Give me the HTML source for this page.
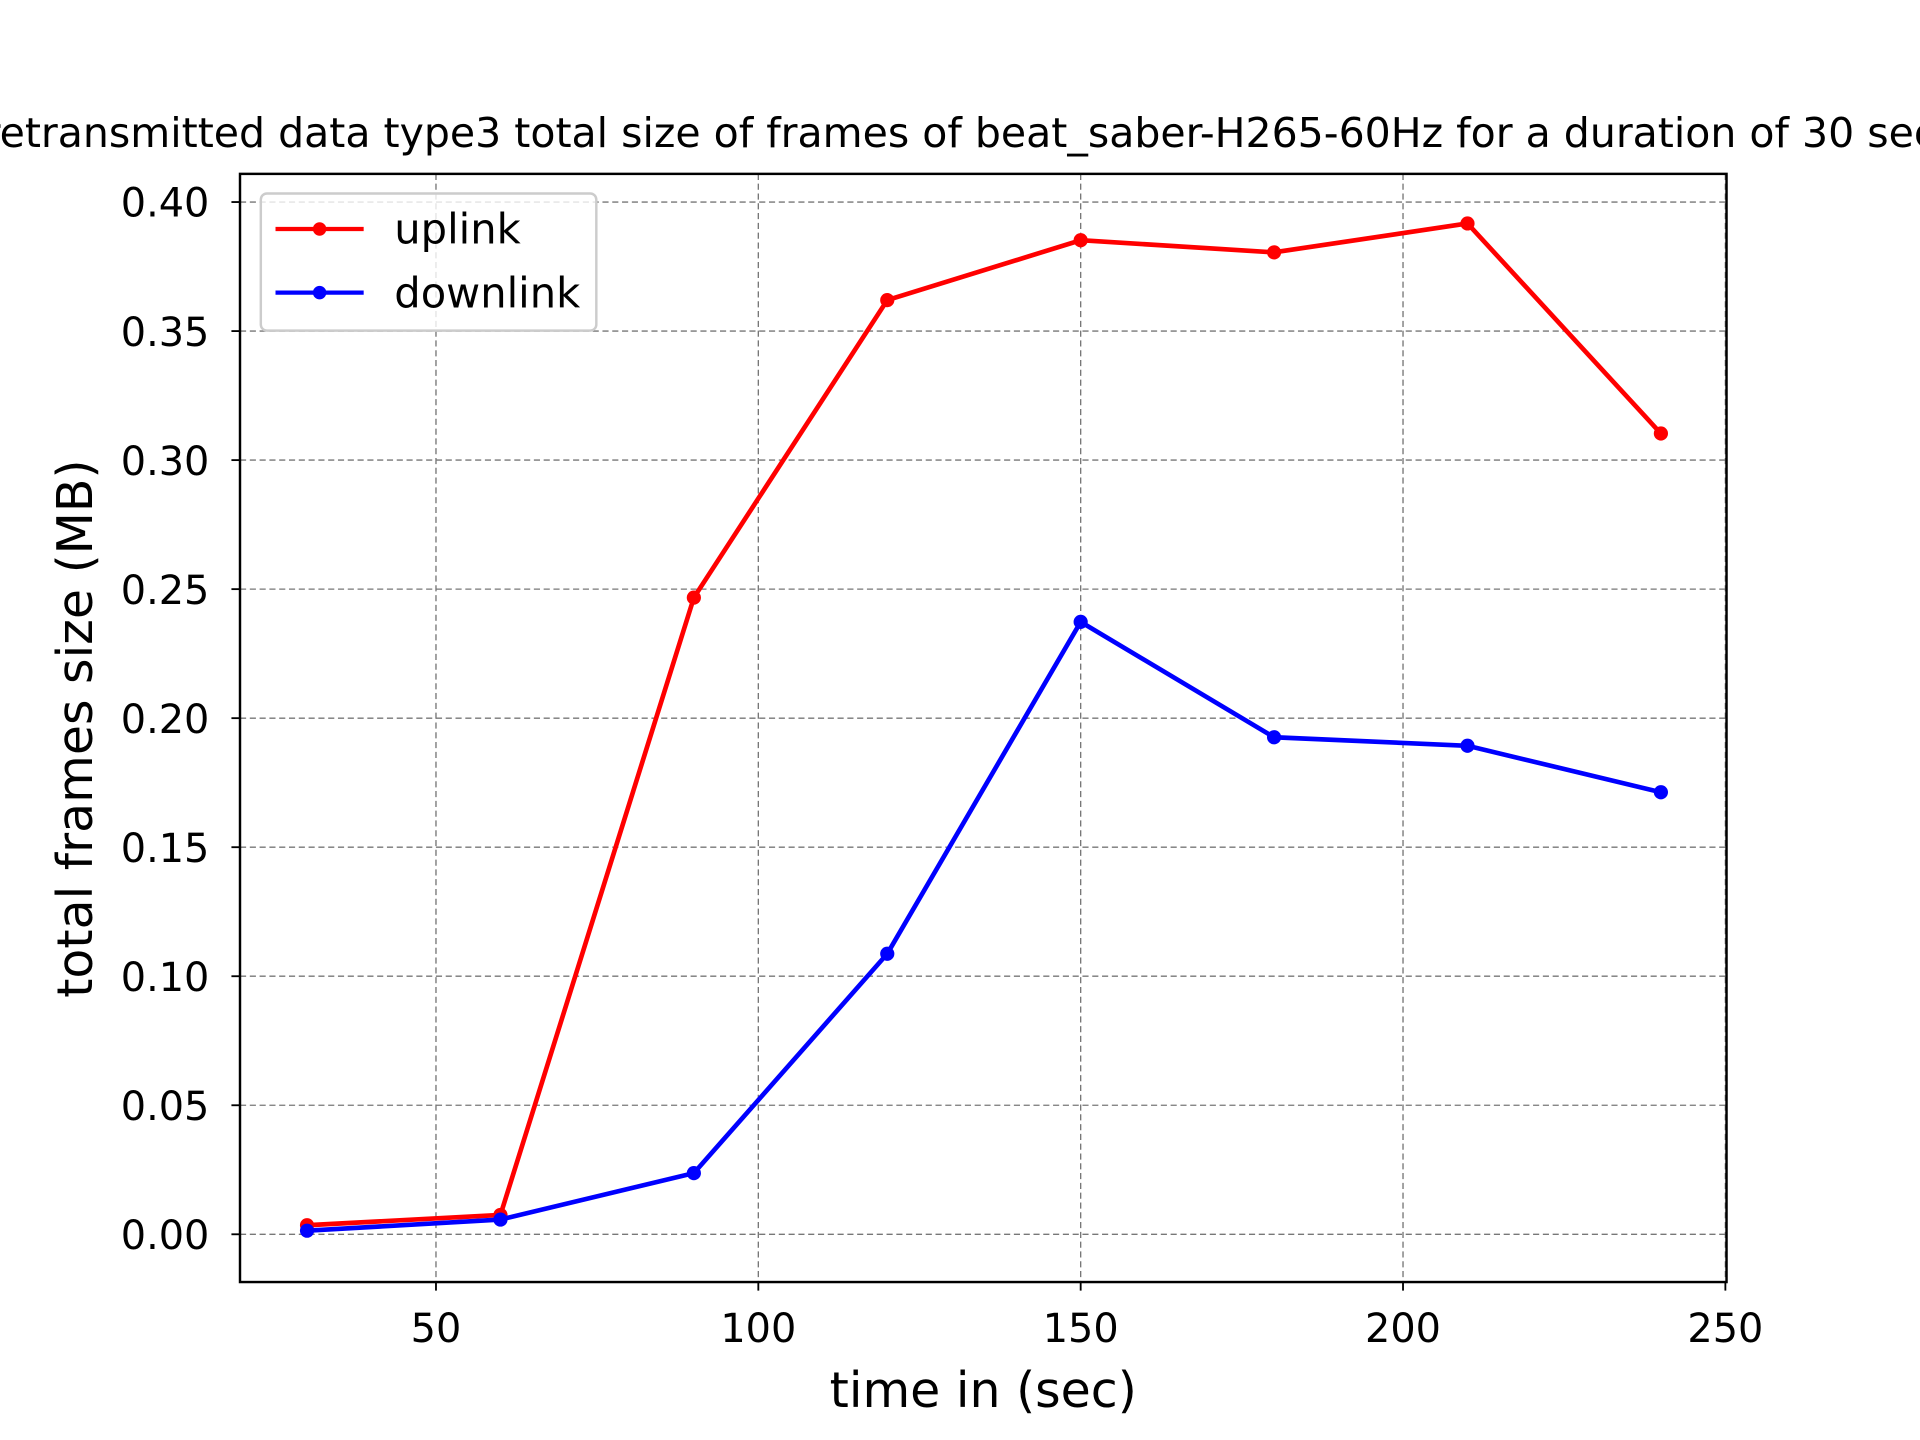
<!DOCTYPE html>
<html><head><meta charset="utf-8"><style>
html,body{margin:0;padding:0;background:#fff;width:1920px;height:1440px;overflow:hidden}
svg{display:block}
text{font-family:"DejaVu Sans","Liberation Sans",sans-serif;fill:#000}
</style></head><body>
<svg id="chart" width="1920" height="1440" viewBox="0 0 1568 1176" preserveAspectRatio="none" xmlns="http://www.w3.org/2000/svg">
<rect width="1568" height="1176" fill="#fff"/>
<text x="784" y="120" font-size="33.5" text-anchor="middle">retransmitted data type3 total size of frames of beat_saber-H265-60Hz for a duration of 30 sec</text>
<g id="grid"></g>
<g id="series"></g>
<rect x="196" y="142" width="1214" height="905" fill="none" stroke="#000" stroke-width="2"/>
<g id="ticks"></g>
<text x="803" y="1149" font-size="40" text-anchor="middle">time in (sec)</text>
<text transform="translate(75,595) rotate(-90)" font-size="40" text-anchor="middle">total frames size (MB)</text>
<g>
<rect x="213" y="158" width="274" height="112" rx="5" fill="#fff" fill-opacity="0.8" stroke="#ccc" stroke-width="2"/>
<g>
<line x1="225" y1="187" x2="297" y2="187" stroke="#f00" stroke-width="3.5"/><circle cx="261" cy="187" r="5.5" fill="#f00"/>
<text x="322" y="199" font-size="34">uplink</text></g>
<g>
<line x1="225" y1="239" x2="297" y2="239" stroke="#00f" stroke-width="3.5"/><circle cx="261" cy="239" r="5.5" fill="#00f"/>
<text x="322" y="251" font-size="34">downlink</text></g>
</g>
</svg>
<script>
const xs = [30, 60, 90, 120, 150, 180, 210, 240];
const uplink = [0.0035, 0.0075, 0.2467, 0.362, 0.3852, 0.3805, 0.3917, 0.3103];
const downlink = [0.0014, 0.0057, 0.0237, 0.1087, 0.2373, 0.1926, 0.1893, 0.1713];
const xTicks = [50, 100, 150, 200, 250];
const yTicks = [0, 0.05, 0.10, 0.15, 0.20, 0.25, 0.30, 0.35, 0.40];
const NS = "http://www.w3.org/2000/svg";
const X = v => 92.8 + v * 5.265;
const Y = v => 1008 - v * 2107.5;
function mk(tag, attrs, parent){const e=document.createElementNS(NS,tag);for(const k in attrs)e.setAttribute(k,attrs[k]);parent.appendChild(e);return e;}
const grid=document.getElementById('grid'), ticks=document.getElementById('ticks'), ser=document.getElementById('series');
xTicks.forEach(t=>{
  const g=mk('line',{x1:X(t),x2:X(t),y1:142,y2:1047,stroke:'#777','stroke-width':1.1,'stroke-dasharray':'5,3'},grid);
  
  
  mk('line',{x1:X(t),x2:X(t),y1:1047,y2:1054,stroke:'#000','stroke-width':1.5},ticks);
  const tx=mk('text',{x:X(t),y:1096,'font-size':32.5,'text-anchor':'middle'},ticks);
  tx.textContent=t;
  
  
});
yTicks.forEach(t=>{
  const g=mk('line',{x1:196,x2:1410,y1:Y(t),y2:Y(t),stroke:'#777','stroke-width':1.1,'stroke-dasharray':'5,3'},grid);
  
  
  mk('line',{x1:189,x2:196,y1:Y(t),y2:Y(t),stroke:'#000','stroke-width':1.5},ticks);
  const tx=mk('text',{x:171,y:Y(t)+12,'font-size':32.5,'text-anchor':'end'},ticks);
  tx.textContent=t.toFixed(2);
  
  
});
function drawSeries(vals,color,name){
  const pl=mk('polyline',{points:xs.map((x,i)=>X(x)+','+Y(vals[i])).join(' '),fill:'none',stroke:color,'stroke-width':3.8,'stroke-linejoin':'round'},ser);
  
  
  xs.forEach((x,i)=>{
    const c=mk('circle',{cx:X(x),cy:Y(vals[i]),r:5.8,fill:color},ser);
    
    
  });
}
drawSeries(uplink,'#f00','uplink');
drawSeries(downlink,'#00f','downlink');
</script>
</body></html>
